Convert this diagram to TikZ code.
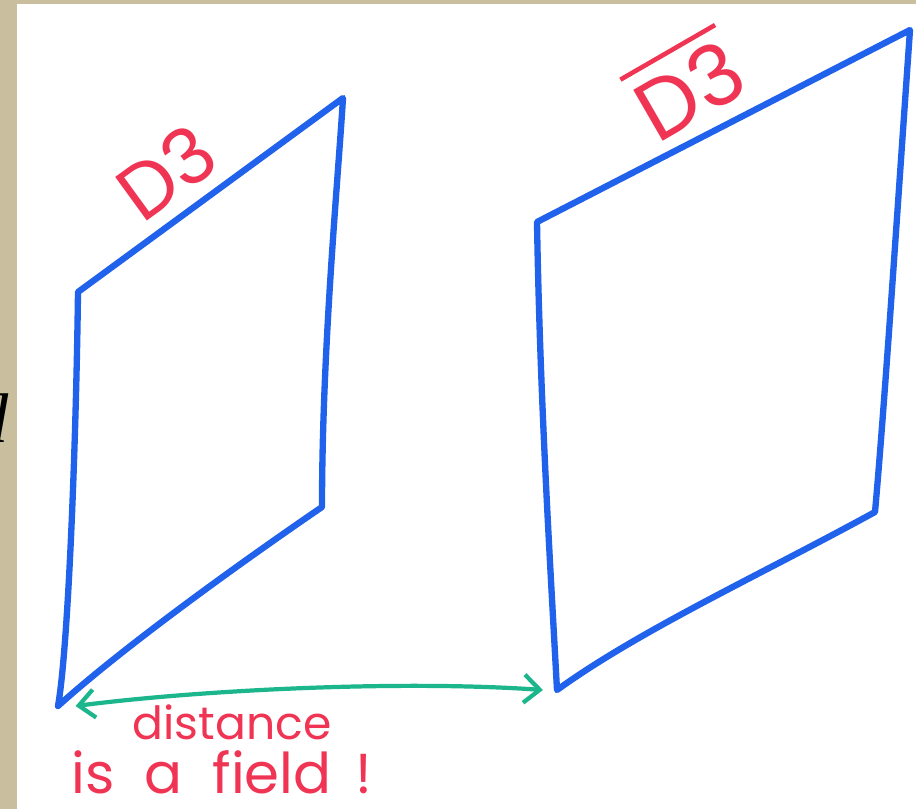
\documentclass[tikz,border=0pt]{standalone}
\usepackage{fontspec}
\setmainfont{Poppins}
\newfontfamily\slidefont{Liberation Serif}
\usetikzlibrary{arrows.meta, positioning}

\definecolor{paper}{RGB}{201,190,158}
\definecolor{penblue}{RGB}{32,98,236}
\definecolor{penred}{RGB}{240,52,84}
\definecolor{pengreen}{RGB}{28,182,140}

\begin{document}
\begin{tikzpicture}[
        x=0.02cm, y=-0.02cm,
        brane/.style={draw=penblue, line width=3.6pt, line cap=round, line join=round},
        scribble/.style={text=penred, inner sep=0pt},
        gap/.style={draw=pengreen, line width=2.4pt, line cap=round,
            {Straight Barb[length=9pt, width=16pt, line width=2.4pt]}-{Straight Barb[length=9pt, width=16pt, line width=2.4pt]}}
    ]
        % Paper and slide
        \clip (0,0) rectangle (916,809);
        \fill[paper] (0,0) rectangle (916,809);
        \fill[white] (17,4) rectangle (916,809);
        \node[anchor=east, inner sep=0pt, font=\slidefont\fontsize{40}{40}\selectfont\itshape] (word) at (9,418) {d};

        % Corners of the D3
        \coordinate (ltl) at (78,292);
        \coordinate (ltr) at (343,98);
        \coordinate (lbr) at (322,507);
        \coordinate (lbl) at (58,706);

        % Corners of the anti-D3
        \coordinate (rtl) at (537,222);
        \coordinate (rtr) at (910,30);
        \coordinate (rbr) at (875,512);
        \coordinate (rbl) at (557,690);

        % Branes
        \draw[brane] (ltl) -- (ltr) .. controls (338,180) and (322,350) .. (lbr)
            .. controls (230,570) and (120,650) .. (lbl)
            .. controls (68,650) and (76,450) .. cycle;
        \draw[brane] (rtl) -- (rtr) .. controls (898,200) and (885,400) .. (rbr)
            .. controls (760,575) and (640,630) .. (rbl)
            .. controls (550,560) and (540,400) .. cycle;

        % Distance between them
        \draw[gap] ([xshift=10] lbl) .. controls (200,690) and (400,680) .. ([xshift=-8] rbl);

        % Labels
        \node[scribble, font=\fontsize{44}{44}\selectfont, rotate=36] (d3) at (166,172) {D3};
        \node[scribble, font=\fontsize{48}{48}\selectfont, rotate=30] (antid3) at (686,84)
            {\vbox{\hrule height 2.6pt\kern 6pt\hbox{D3}}};
        \node[scribble, font=\fontsize{26}{26}\selectfont] (dist) at (232,722) {distance};
        \node[scribble, font=\fontsize{32}{32}\selectfont] (field) at (222,772) {is \ a \ field \,!};
    \end{tikzpicture}
\end{document}
